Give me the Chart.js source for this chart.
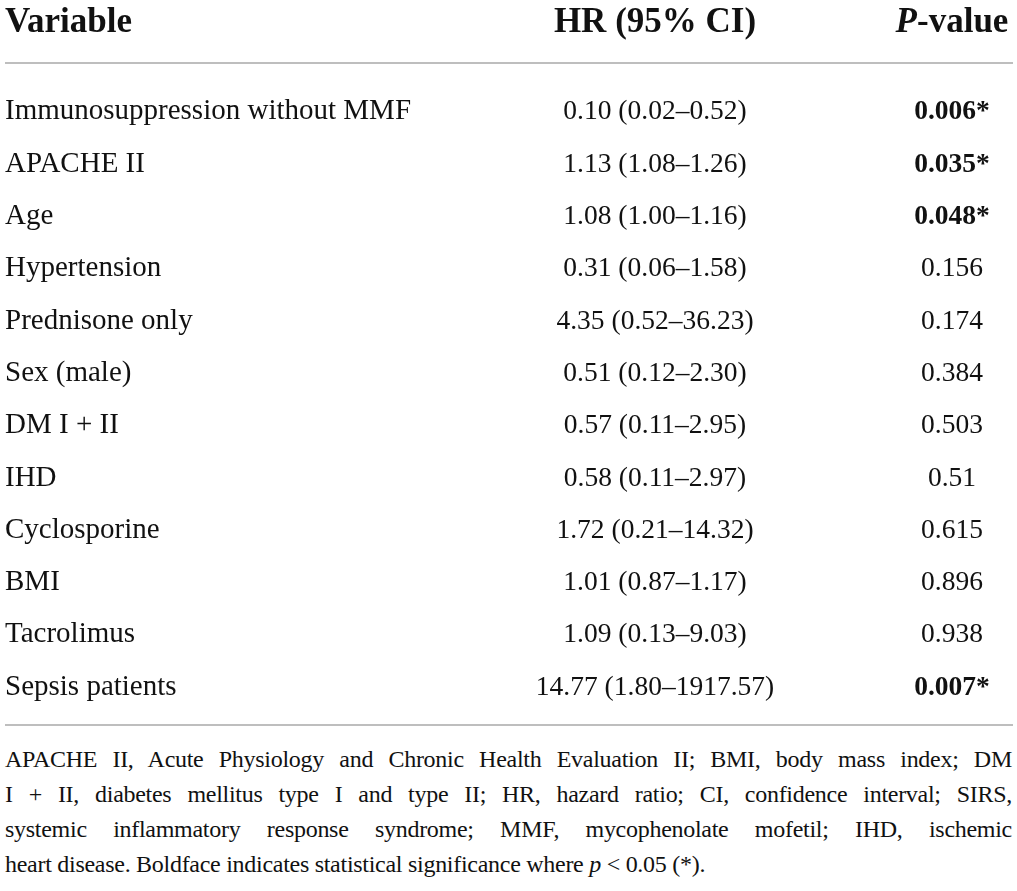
<!DOCTYPE html>
<html lang="en">
<head>
  <meta charset="UTF-8">
  <title>Hazard ratios</title>
  <script src="https://cdn.jsdelivr.net/npm/chart.js"></script>
  <style>
    body {
      margin: 0;
      background: #fff;
      color: #111;
      width: 1017px;
    }
    #table {
      display: block;
    }
    .note {
      margin: 2px 5px 0 5px;
      font-family: "Liberation Serif", "DejaVu Serif", serif;
      font-size: 24px;
      line-height: 35px;
      letter-spacing: -0.28px;
    }
    .note div {
      text-align: justify;
      text-align-last: justify;
      white-space: nowrap;
    }
    .note div.last {
      text-align-last: left;
    }
  </style>
</head>
<body>
  <canvas id="table" width="1017" height="740"></canvas>
  <div class="note">
    <div>APACHE II, Acute Physiology and Chronic Health Evaluation II; BMI, body mass index; DM</div>
    <div>I + II, diabetes mellitus type I and type II; HR, hazard ratio; CI, confidence interval; SIRS,</div>
    <div>systemic inflammatory response syndrome; MMF, mycophenolate mofetil; IHD, ischemic</div>
    <div class="last">heart disease. Boldface indicates statistical significance where <i>p</i> &lt; 0.05 (*).</div>
  </div>

  <script>
    // table data
    const headers = ["Variable", "HR (95% CI)", "P-value"];
    const variables = [
      "Immunosuppression without MMF", "APACHE II", "Age", "Hypertension",
      "Prednisone only", "Sex (male)", "DM I + II", "IHD", "Cyclosporine",
      "BMI", "Tacrolimus", "Sepsis patients"
    ];
    const hrValues = [0.10, 1.13, 1.08, 0.31, 4.35, 0.51, 0.57, 0.58, 1.72, 1.01, 1.09, 14.77];
    const ciLower  = [0.02, 1.08, 1.00, 0.06, 0.52, 0.12, 0.11, 0.11, 0.21, 0.87, 0.13, 1.80];
    const ciUpper  = [0.52, 1.26, 1.16, 1.58, 36.23, 2.30, 2.95, 2.97, 14.32, 1.17, 9.03, 1917.57];
    const pValues  = [0.006, 0.035, 0.048, 0.156, 0.174, 0.384, 0.503, 0.51, 0.615, 0.896, 0.938, 0.007];

    // layout (pixels on x, row units on y)
    const COL_X = [5, 655, 952];
    const HEADER_ROW = -1.72;
    const RULE_TOP = -0.9;
    const RULE_BOTTOM = 11.76;
    const SERIF = '"Liberation Serif", "DejaVu Serif", serif';

    const hrText = hrValues.map((v, i) =>
      v.toFixed(2) + " (" + ciLower[i].toFixed(2) + "\u2013" + ciUpper[i].toFixed(2) + ")");
    const pText = pValues.map(p => String(p) + (p < 0.05 ? "*" : ""));

    const columnDataset = (col, n) => ({
      data: Array.from({ length: n }, (_, i) => ({ x: COL_X[col], y: i })),
      pointRadius: 0
    });

    const tablePlugin = {
      id: "tableText",
      afterDatasetsDraw(chart) {
        const ctx = chart.ctx;
        const xs = chart.scales.x, ys = chart.scales.y;
        ctx.save();

        // horizontal rules
        ctx.strokeStyle = "#a8a8a8";
        ctx.lineWidth = 1.5;
        [RULE_TOP, RULE_BOTTOM].forEach(v => {
          const y = ys.getPixelForValue(v);
          ctx.beginPath();
          ctx.moveTo(xs.getPixelForValue(5), y);
          ctx.lineTo(xs.getPixelForValue(1013), y);
          ctx.stroke();
        });

        ctx.fillStyle = "#111";
        ctx.textBaseline = "alphabetic";

        // header row
        const hdr = chart.getDatasetMeta(3).data;
        ctx.font = "bold 35px " + SERIF;
        ctx.textAlign = "left";
        ctx.fillText(headers[0], hdr[0].x, hdr[0].y + 11.5);
        ctx.textAlign = "center";
        ctx.fillText(headers[1], hdr[1].x, hdr[1].y + 11.5);
        // P-value with italic P
        const p1 = "P", p2 = headers[2].slice(1);
        ctx.font = "italic bold 35px " + SERIF;
        const w1 = ctx.measureText(p1).width;
        ctx.font = "bold 35px " + SERIF;
        const w2 = ctx.measureText(p2).width;
        const start = hdr[2].x - (w1 + w2) / 2;
        ctx.textAlign = "left";
        ctx.font = "italic bold 35px " + SERIF;
        ctx.fillText(p1, start, hdr[2].y + 11.5);
        ctx.font = "bold 35px " + SERIF;
        ctx.fillText(p2, start + w1, hdr[2].y + 11.5);

        // body rows
        chart.getDatasetMeta(0).data.forEach((el, i) => {
          ctx.font = "29px " + SERIF;
          ctx.textAlign = "left";
          ctx.fillText(variables[i], el.x, el.y + 9.5);
        });
        chart.getDatasetMeta(1).data.forEach((el, i) => {
          ctx.font = "27.5px " + SERIF;
          ctx.textAlign = "center";
          ctx.fillText(hrText[i], el.x, el.y + 9.5);
        });
        chart.getDatasetMeta(2).data.forEach((el, i) => {
          ctx.font = (pValues[i] < 0.05 ? "bold " : "") + "27.5px " + SERIF;
          ctx.textAlign = "center";
          ctx.fillText(pText[i], el.x, el.y + 9.5);
        });
        ctx.restore();
      }
    };

    new Chart(document.getElementById("table"), {
      type: "scatter",
      data: {
        datasets: [
          columnDataset(0, variables.length),
          columnDataset(1, variables.length),
          columnDataset(2, variables.length),
          { data: COL_X.map(x => ({ x, y: HEADER_ROW })), pointRadius: 0 }
        ]
      },
      options: {
        responsive: false,
        animation: false,
        layout: { padding: 0 },
        plugins: { legend: { display: false }, tooltip: { enabled: false } },
        scales: {
          x: { type: "linear", min: 0, max: 1017, display: false },
          y: { type: "linear", reverse: true, min: -2.103, max: 12.046, display: false }
        }
      },
      plugins: [tablePlugin]
    });
  </script>
</body>
</html>
